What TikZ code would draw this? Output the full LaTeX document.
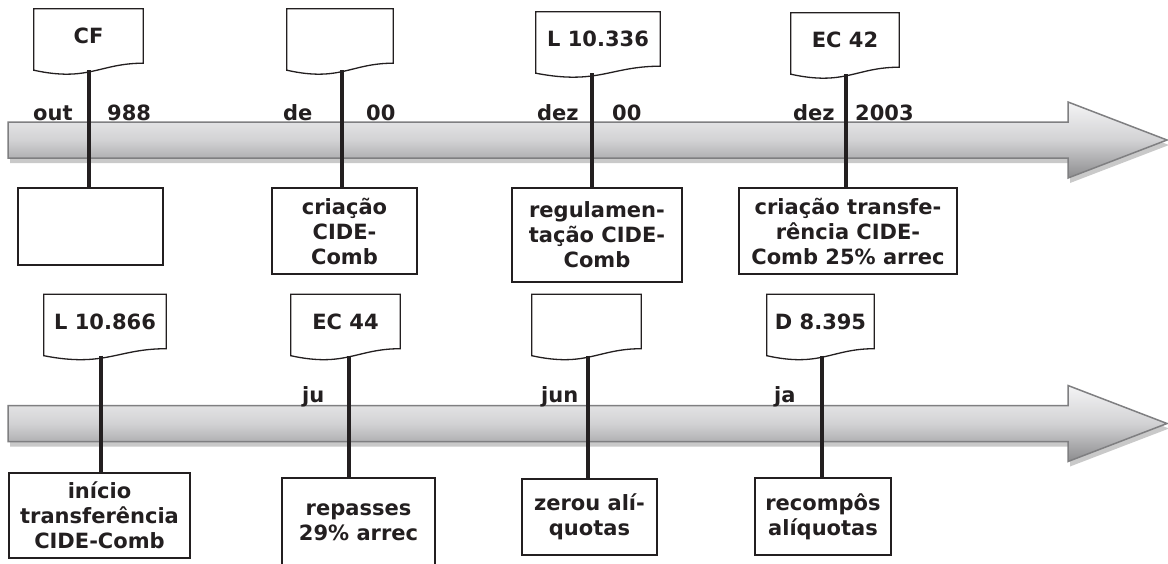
\documentclass[tikz,border=0pt]{standalone}
\usepackage{fontspec}
\setmainfont{DejaVu Sans}
\usetikzlibrary{calc}
\definecolor{ink}{HTML}{231F20}
\definecolor{arrtop}{HTML}{F4F4F5}
\definecolor{arrmid}{HTML}{D2D2D4}
\definecolor{arrbot}{HTML}{8C8C8E}
\definecolor{arrline}{HTML}{7F7F81}
\definecolor{arrshade}{HTML}{C9C9C9}
\newcommand\lblfont{\fontsize{21}{25}\selectfont\bfseries}

\begin{document}
\begin{tikzpicture}
  [x=1pt,y=-1pt,
   docN/.style={minimum width=#1,minimum height=54pt,inner sep=0pt,font=\lblfont,text=ink},
   boxN/.style={draw=ink,line width=1.4pt,fill=white,inner sep=0pt,align=center,font=\lblfont,text=ink},
   stemN/.style={draw=ink,line width=4pt,shorten <=7pt},
   dateN/.style={anchor=base west,inner sep=0pt,font=\lblfont,text=ink},
   docline/.style={draw=ink,line width=1.3pt},
   arrowN/.style={draw=arrline,line width=1.5pt,top color=arrtop,bottom color=arrbot,middle color=arrmid}]

  \clip (0,0) rectangle (1168,563);
  \fill[white] (0,0) rectangle (1168,563);

  \foreach \y in {140,423.5}{
    \fill[arrshade,xshift=2pt,yshift=-5pt] (8,\y-18) -- (1068,\y-18) -- (1068,\y-38) -- (1167,\y)
      -- (1068,\y+38) -- (1068,\y+18) -- (8,\y+18) -- cycle;
    \path[arrowN] (8,\y-18) -- (1068,\y-18) -- (1068,\y-38) -- (1167,\y)
      -- (1068,\y+38) -- (1068,\y+18) -- (8,\y+18) -- cycle;
  }

  \coordinate (t1) at (89,140);
  \coordinate (t2) at (342,140);
  \coordinate (t3) at (592,140);
  \coordinate (t4) at (846,140);
  \coordinate (t5) at (101,423.5);
  \coordinate (t6) at (349,423.5);
  \coordinate (t7) at (588,423.5);
  \coordinate (t8) at (822,423.5);

  \node[dateN] (m1a) at (33,120) {out};
  \node[dateN] (m1b) at (107,120) {988};
  \node[dateN] (m2a) at (283,120) {de};
  \node[dateN] (m2b) at (366,120) {00};
  \node[dateN] (m3a) at (537,120) {dez};
  \node[dateN] (m3b) at (612,120) {00};
  \node[dateN] (m4a) at (793,120) {dez};
  \node[dateN] (m4b) at (855,120) {2003};
  \node[dateN] (m6) at (302,402) {ju};
  \node[dateN] (m7) at (541,402) {jun};
  \node[dateN] (m8) at (774,402) {ja};

  \node[docN=109pt] (cf) at (88.5,36) {CF};
  \node[docN=106pt] (docb) at (340,36) {};
  \node[docN=124pt] (l10336) at (598,39) {L 10.336};
  \node[docN=108pt] (ec42) at (845,40) {EC 42};
  \node[docN=122pt] (l10866) at (105,321.5) {L 10.866};
  \node[docN=109pt] (ec44) at (345.5,321.5) {EC 44};
  \node[docN=109pt] (docc) at (586.5,321.5) {};
  \node[docN=107pt] (d8395) at (820.5,321.5) {D 8.395};

  \foreach \d in {cf,docb,l10336,ec42,l10866,ec44,docc,d8395}
    \draw[docline] ($(\d.south west)+(0,7)$) -- (\d.north west) -- (\d.north east) -- (\d.south east)
      .. controls ($(\d.south east)!0.4!(\d.south west)$) and ($(\d.south)+(0,19)$) .. ($(\d.south west)+(0,7)$) -- cycle;

  \node[boxN,minimum width=145pt,minimum height=77pt] (cfbox) at (90.5,226.5) {};
  \node[boxN,minimum width=145pt,minimum height=86pt] (criacao) at (344.5,231) {criação\\CIDE-\\Comb};
  \node[boxN,minimum width=170pt,minimum height=94pt] (regul) at (597,235) {regulamen-\\tação CIDE-\\Comb};
  \node[boxN,minimum width=218pt,minimum height=86pt] (transf) at (848,231) {criação transfe-\\rência CIDE-\\Comb 25\% arrec};
  \node[boxN,minimum width=181pt,minimum height=85pt] (inicio) at (99.5,515.5) {início\\transferência\\CIDE-Comb};
  \node[boxN,minimum width=153pt,minimum height=88pt] (repasses) at (358.5,522) {repasses\\29\% arrec};
  \node[boxN,minimum width=135pt,minimum height=76pt] (zerou) at (589.5,517) {zerou alí-\\quotas};
  \node[boxN,minimum width=136pt,minimum height=77pt] (recompos) at (823,516.5) {recompôs\\alíquotas};

  \foreach \d/\b/\t in {cf/cfbox/t1,docb/criacao/t2,l10336/regul/t3,ec42/transf/t4,
                        l10866/inicio/t5,ec44/repasses/t6,docc/zerou/t7,d8395/recompos/t8}
    \draw[stemN] (\d.south -| \t) -- (\b.north -| \t);

\end{tikzpicture}
\end{document}
